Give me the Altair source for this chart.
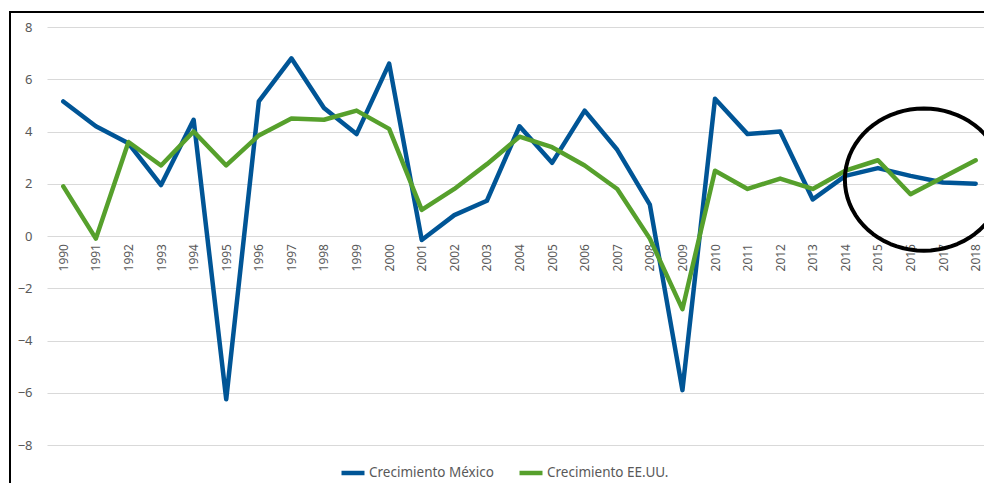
import math
import altair as alt
import pandas as pd

years = list(range(1990, 2019))
mexico = [5.15, 4.2, 3.55, 1.95, 4.45, -6.25, 5.15, 6.8, 4.9, 3.9, 6.6, -0.15, 0.8, 1.35,
          4.2, 2.8, 4.8, 3.3, 1.2, -5.9, 5.25, 3.9, 4.0, 1.4, 2.3, 2.6, 2.3, 2.05, 2.0]
usa = [1.9, -0.1, 3.6, 2.7, 4.0, 2.7, 3.85, 4.5, 4.45, 4.8, 4.1, 1.0, 1.8, 2.75,
       3.8, 3.4, 2.7, 1.8, -0.1, -2.8, 2.5, 1.8, 2.2, 1.8, 2.5, 2.9, 1.6, 2.25, 2.9]
series_names = ["Crecimiento México", "Crecimiento EE.UU."]
series_colors = ["#005596", "#56A02C"]
y_ticks = [-8, -6, -4, -2, 0, 2, 4, 6, 8]

# annotation ellipse centre (data units)
ellipse_year = [2016.41]
ellipse_value = [2.16]

rows = []
for y, m in zip(years, mexico):
    rows.append({"year": y, "value": m, "serie": series_names[0], "ord": 0})
for y, u in zip(years, usa):
    rows.append({"year": y, "value": u, "serie": series_names[1], "ord": 1})
df = pd.DataFrame(rows)

FONT = "Noto Sans"
W, H = 937, 418

x_scale = alt.Scale(domain=[1989.5, 2018.255], nice=False, zero=False)
y_scale = alt.Scale(domain=[-8, 8], nice=False)

x_axis = alt.Axis(values=years, format="d", labelAngle=270, title=None,
                  domain=False, ticks=False, grid=False, labelPadding=8,
                  labelFontSize=12, labelColor="#595959", labelFont=FONT,
                  offset=-209.5, labelOverlap=False, labelFlush=False,
                  labelBound=False)
y_axis = alt.Axis(values=y_ticks, format="d", title=None, domain=False, ticks=False,
                  gridColor="#D9D9D9", gridWidth=1, labelPadding=15,
                  labelFontSize=13, labelColor="#595959", labelFont=FONT,
                  labelOverlap=False)

lines = alt.Chart(df).mark_line(strokeWidth=4.5, strokeJoin="round", strokeCap="round").encode(
    x=alt.X("year:Q", scale=x_scale, axis=x_axis),
    y=alt.Y("value:Q", scale=y_scale, axis=y_axis),
    color=alt.Color("serie:N", scale=alt.Scale(domain=series_names, range=series_colors),
                    legend=alt.Legend(orient="none", legendX=292, legendY=432,
                                      direction="horizontal", title=None,
                                      symbolType="stroke", symbolStrokeWidth=4.5, symbolSize=529,
                                      labelFont=FONT, labelFontSize=13.5, labelColor="#595959",
                                      columnPadding=16, labelOffset=2)),
    order="ord:Q",
    detail="serie:N",
)

# ellipse outline as a closed polygon path in the unit box
pts = []
for i in range(73):
    a = 2 * math.pi * i / 72
    pts.append(f"{math.cos(a):.4f} {0.9 * math.sin(a):.4f}")
ellipse_path = "M " + " L ".join(pts) + " Z"

ell_df = pd.DataFrame({"year": ellipse_year, "value": ellipse_value})
ellipse = alt.Chart(ell_df).mark_point(
    shape=ellipse_path, filled=False, stroke="black", strokeWidth=4,
    size=24964, opacity=1, strokeJoin="round"
).encode(
    x=alt.X("year:Q", scale=x_scale, axis=x_axis),
    y=alt.Y("value:Q", scale=y_scale, axis=y_axis),
)

frame = alt.Chart(pd.DataFrame({"a": [0]})).mark_rect(
    fill=None, stroke="black", strokeWidth=2
).encode(
    x=alt.value(-37), x2=alt.value(1100), y=alt.value(-15), y2=alt.value(520)
)

chart = alt.layer(frame, lines, ellipse).properties(
    width=W, height=H,
    padding={"left": 39, "top": 19, "right": 0, "bottom": 38},
    autosize=alt.AutoSizeParams(type="none"),
).configure_view(stroke=None)

chart.save("out.html", embed_options={"renderer": "svg", "actions": False})
